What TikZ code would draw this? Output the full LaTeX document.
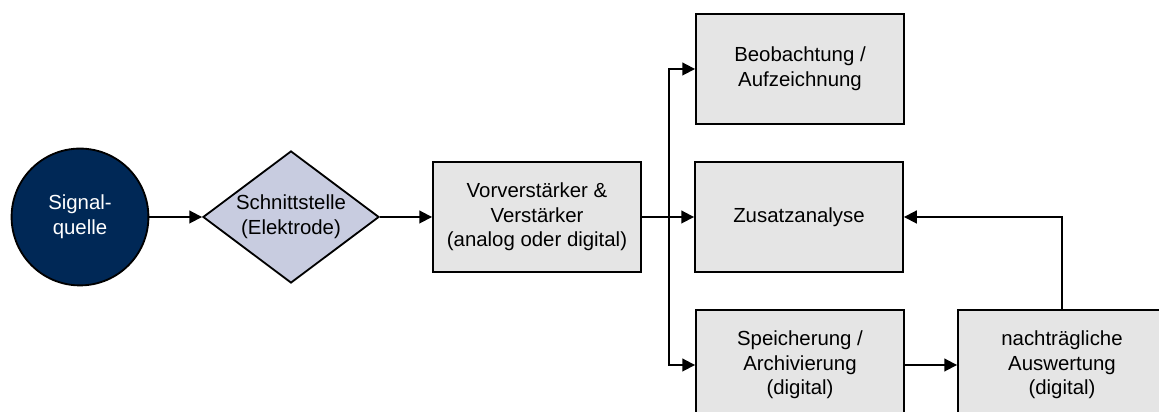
\documentclass[tikz,border=0pt]{standalone}
\usepackage{fontspec}
\setmainfont{Liberation Sans}
\usepackage{tikz}
\usetikzlibrary{shapes.geometric,arrows.meta}
\definecolor{quelleBlue}{rgb}{0,0.157,0.337}
\definecolor{diamondLilac}{rgb}{0.784,0.800,0.878}
\definecolor{boxGray}{rgb}{0.898,0.898,0.898}

\begin{document}
\begin{tikzpicture}[x=0.025cm, y=0.025cm,
  font=\fontsize{14.5}{17.5}\selectfont,
  block/.style={draw, line width=1.3pt, fill=boxGray, minimum width=5.2cm, minimum height=2.75cm, align=center},
  pfeil/.style={line width=1.3pt, -{Triangle[length=3.2mm,width=3.2mm]}}]
 	\useasboundingbox (0,0) rectangle (1159,412);
 	\clip (0,0) rectangle (1159,412);
 	\node[circle, draw, line width=1.3pt, fill=quelleBlue, text=white, minimum size=3.42cm, align=center] (Q) at (80,195) {Signal-\\quelle};
 	\node[diamond, draw, line width=1.3pt, fill=diamondLilac, inner sep=0pt, aspect=1.333, minimum width=4.4cm, minimum height=3.3cm, align=center] (S) at (291,195) {Schnittstelle\\(Elektrode)};
 	\node[block] (V) at (537,195) {Vorverst\"arker \&\\Verst\"arker\\(analog oder digital)};
 	\node[block] (B) at (800,343) {Beobachtung /\\Aufzeichnung};
 	\node[block] (Z) at (799,195) {Zusatzanalyse};
 	\node[block] (A) at (800,47) {Speicherung /\\Archivierung\\(digital)};
 	\node[block] (N) at (1062,47) {nachtr\"agliche\\Auswertung\\(digital)};
 	\coordinate (split) at (669,195);
 	\draw[pfeil] (Q) -- (S);
 	\draw[pfeil] (S) -- (V);
 	\draw[pfeil] (V) -- (Z);
 	\draw[pfeil] (split) |- (B.west);
 	\draw[pfeil] (split) |- (A.west);
 	\draw[pfeil] (A) -- (N);
 	\draw[pfeil] (N.north) |- (Z.east);
\end{tikzpicture}
\end{document}
